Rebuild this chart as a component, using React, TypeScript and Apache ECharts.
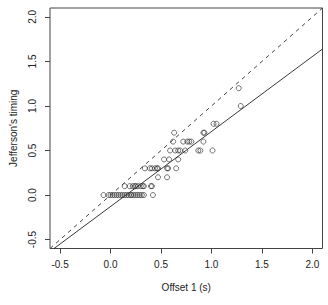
import React, { useEffect, useRef } from "react";
import * as echarts from "echarts";

// Jefferson's timing levels (y) and the Offset 1 values (x) observed at each level
const timingLevels = [0, 0.1, 0.2, 0.3, 0.4, 0.5, 0.6, 0.7, 0.8, 1.0, 1.2];
const offsetsAt0 = [-0.07, -0.02, 0.0, 0.02, 0.04, 0.06, 0.08, 0.1, 0.12, 0.14, 0.16, 0.18, 0.2, 0.21, 0.23, 0.25, 0.27, 0.29, 0.31, 0.33, 0.42];
const offsetsAt01 = [0.14, 0.19, 0.22, 0.24, 0.25, 0.27, 0.3, 0.32, 0.33, 0.4, 0.41];
const offsetsAt02 = [0.47, 0.56];
const offsetsAt03 = [0.34, 0.39, 0.41, 0.44, 0.46, 0.47, 0.56, 0.57, 0.65];
const offsetsAt04 = [0.53, 0.58, 0.67];
const offsetsAt05 = [0.59, 0.64, 0.67, 0.69, 0.74, 0.87, 0.89, 1.01];
const offsetsAt06 = [0.62, 0.72, 0.76, 0.78, 0.8, 0.92];
const offsetsAt07 = [0.63, 0.92, 0.93];
const offsetsAt08 = [1.02, 1.05];
const offsetsAt10 = [1.29];
const offsetsAt12 = [1.27];
const offsetGroups = [offsetsAt0, offsetsAt01, offsetsAt02, offsetsAt03, offsetsAt04, offsetsAt05, offsetsAt06, offsetsAt07, offsetsAt08, offsetsAt10, offsetsAt12];

// Reference lines
const identityLine = [[-0.6, -0.6], [2.1, 2.1]];
const fittedLine = [[-0.56, -0.6], [2.1, 1.64]];

// Axes
const axisMin = -0.6;
const axisMax = 2.1;
const tickValues = [-0.5, 0, 0.5, 1.0, 1.5, 2.0];

const FONT = "'Liberation Sans', Arial, Helvetica, sans-serif";

export default function App() {
  const ref = useRef<HTMLDivElement>(null);
  useEffect(() => {
    if (!ref.current) return;
    const chart = echarts.init(ref.current, undefined, { renderer: "svg" });
    const points: number[][] = [];
    offsetGroups.forEach((g, i) => g.forEach((x) => points.push([x, timingLevels[i]])));
    const axisCommon = {
      type: "value" as const,
      min: axisMin,
      max: axisMax,
      splitLine: { show: false },
      axisLine: { show: false, onZero: false },
      axisTick: {
        show: true,
        inside: false,
        length: 5,
        customValues: tickValues,
        lineStyle: { color: "#444", width: 1 },
      },
      nameLocation: "middle" as const,
      nameTextStyle: { fontFamily: FONT, fontSize: 10, color: "#222" },
    };
    chart.setOption({
      animation: false,
      backgroundColor: "#fff",
      grid: {
        left: 49,
        right: 5.5,
        top: 8,
        bottom: 56.5,
        show: true,
        borderColor: "#444",
        borderWidth: 1,
        backgroundColor: "transparent",
      },
      xAxis: {
        ...axisCommon,
        position: "bottom",
        name: "Offset 1 (s)",
        nameGap: 34,
        axisLabel: {
          customValues: tickValues,
          formatter: (v: number) => v.toFixed(1),
          fontFamily: FONT,
          fontSize: 10,
          color: "#222",
          margin: 11,
        },
      },
      yAxis: {
        ...axisCommon,
        position: "left",
        name: "Jefferson's timing",
        nameGap: 32,
        nameRotate: 90,
        axisLabel: {
          customValues: tickValues,
          formatter: (v: number) => v.toFixed(1),
          fontFamily: FONT,
          fontSize: 10,
          color: "#222",
          rotate: 90,
          margin: 13,
        },
      },
      series: [
        {
          type: "line",
          data: identityLine,
          symbol: "none",
          clip: true,
          lineStyle: { color: "#333", width: 0.9, type: [4, 4] },
        },
        {
          type: "line",
          data: fittedLine,
          symbol: "none",
          clip: true,
          lineStyle: { color: "#222", width: 0.9 },
        },
        {
          type: "scatter",
          data: points,
          symbol: "circle",
          symbolSize: 5,
          itemStyle: { color: "transparent", borderColor: "#222", borderWidth: 0.8 },
        },
      ],
    });
    return () => chart.dispose();
  }, []);
  return (
    <div
      ref={ref}
      style={{ position: "fixed", left: 0, top: 0, width: 328, height: 305, background: "#fff" }}
    />
  );
}
